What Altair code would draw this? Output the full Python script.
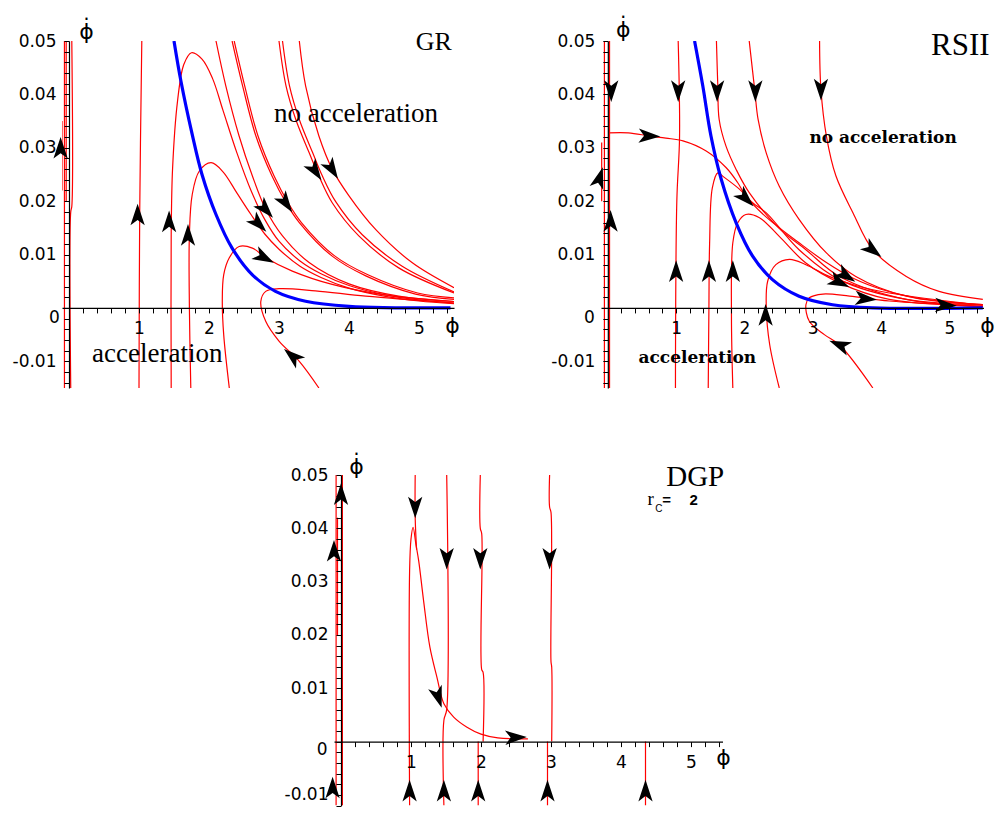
import altair as alt
import pandas as pd

# ====================== DATA ======================
# ---------- GR panel: trajectories (phi, phi_dot) ----------
GR_LEFT_A = [(-0.065, 0.05), (-0.065, -0.015)]
GR_LEFT_B = [(-0.04, 0.05), (-0.04, 0.02)]
GR_LEFT_C = [(0.04, 0.05), (0.04, 0.019), (0.025, 0.018), (0.025, -0.015)]
GR_LEFT_D = [(-0.10, 0.035), (-0.10, 0.022)]
GR_V1 = [(1.0, -0.015), (1.01, 0.0175), (1.04, 0.05)]
GR_P1 = [(1.46, -0.015), (1.46, 0.0137), (1.48, 0.0262), (1.55, 0.0387), (1.64, 0.0456),
         (1.75, 0.0478), (1.90, 0.0466), (2.05, 0.043), (2.2, 0.037), (2.4, 0.029),
         (2.6, 0.022), (2.8, 0.0165), (3.0, 0.0125), (3.3, 0.0088), (3.6, 0.0064),
         (4.0, 0.0042), (4.5, 0.0025), (5.0, 0.0015), (5.5, 0.0009)]
GR_P2 = [(1.74, -0.015), (1.72, 0.0), (1.72, 0.0137), (1.76, 0.0212), (1.86, 0.0256),
         (2.03, 0.0272), (2.2, 0.0255), (2.4, 0.0215), (2.6, 0.0175), (2.8, 0.0138),
         (3.0, 0.011), (3.3, 0.0078), (3.6, 0.0057), (4.0, 0.0037), (4.5, 0.0022),
         (5.0, 0.0013), (5.5, 0.0008)]
GR_P3 = [(2.29, -0.015), (2.21, -0.005), (2.19, 0.0012), (2.21, 0.0062), (2.29, 0.0094),
         (2.43, 0.0115), (2.62, 0.0112), (2.81, 0.0094), (3.19, 0.0069), (3.76, 0.0044),
         (4.48, 0.0025), (5.5, 0.0012)]
GR_P4 = [(3.57, -0.015), (3.29, -0.01), (3.0, -0.0062), (2.81, -0.0025), (2.74, 0.0012),
         (2.81, 0.0031), (3.0, 0.0036), (3.52, 0.0032), (4.24, 0.0022), (5.5, 0.0009)]
GR_T1 = [(2.10, 0.05), (2.24, 0.0416), (2.43, 0.0322), (2.62, 0.0247), (2.81, 0.0185),
         (3.05, 0.0135), (3.43, 0.0085), (4.0, 0.0045), (4.71, 0.0022), (5.5, 0.0012)]
GR_T2 = [(2.33, 0.05), (2.48, 0.0416), (2.67, 0.0322), (2.90, 0.0247), (3.1, 0.0197),
         (3.29, 0.016), (3.76, 0.0097), (4.24, 0.006), (4.95, 0.0026), (5.5, 0.0016)]
GR_T2B = [(2.36, 0.05), (2.51, 0.0416), (2.70, 0.0322), (2.93, 0.0247), (3.13, 0.0197),
          (3.32, 0.016), (3.79, 0.0098), (4.27, 0.0062), (4.98, 0.0028), (5.5, 0.0019)]
GR_T3 = [(3.0, 0.05), (3.1, 0.0416), (3.24, 0.0353), (3.43, 0.0291), (3.57, 0.0247),
         (3.76, 0.0197), (4.14, 0.0135), (4.71, 0.0075), (5.5, 0.0028)]
GR_T4 = [(3.05, 0.05), (3.15, 0.0416), (3.29, 0.0353), (3.48, 0.0291), (3.62, 0.0247),
         (3.81, 0.0199), (4.19, 0.0137), (4.76, 0.0078), (5.5, 0.003)]
GR_T5 = [(3.29, 0.05), (3.38, 0.0416), (3.57, 0.0322), (3.76, 0.026), (4.0, 0.021),
         (4.38, 0.0147), (4.9, 0.0085), (5.5, 0.0038)]
GR_BLUE = [(1.5, 0.05), (1.6, 0.0424), (1.76, 0.0325), (1.9, 0.025), (2.1, 0.0175),
           (2.33, 0.0112), (2.62, 0.0062), (2.95, 0.0031), (3.38, 0.00125), (4.0, 0.0003),
           (5.45, 0.0)]
# arrows: (phi, phi_dot, direction in degrees clockwise from "up")
GR_ARROWS = [(-0.12, 0.030, 0), (0.98, 0.0175, 0), (1.43, 0.0162, 0), (1.70, 0.0137, 0),
             (2.71, 0.0157, 135), (2.81, 0.0184, 138), (3.10, 0.0196, 145),
             (3.52, 0.0256, 146), (3.76, 0.0259, 148), (2.79, 0.0094, 118),
             (3.19, -0.0090, 310)]
GR_TITLE = [("GR", 5.21, 0.0498)]
GR_TEXT = [("no acceleration", 4.1, 0.0363), ("acceleration", 1.26, -0.0086)]
GR_ZERO = [("0", -0.21, -0.0018)]

# ---------- RSII panel ----------
RS_LEFT_A = [(-0.05, 0.05), (-0.05, -0.015)]
RS_LEFT_B = [(0.025, 0.05), (0.025, -0.015)]
RS_LEFT_C = [(-0.09, 0.031), (-0.09, 0.02)]
RS_V1 = [(1.03, 0.05), (1.05, 0.032), (1.01, 0.02), (0.99, -0.015)]
RS_H = [(0.02, 0.0328), (0.3, 0.0328), (0.61, 0.0322), (0.85, 0.0318), (1.1, 0.0313),
        (1.44, 0.0294), (1.73, 0.0263), (1.9, 0.0235), (2.02, 0.021), (2.32, 0.017),
        (2.8, 0.0122), (3.2, 0.0085), (3.6, 0.0055), (4.0, 0.0035), (4.5, 0.0019),
        (5.0, 0.0011), (5.49, 0.0006)]
RS_P1 = [(1.47, -0.015), (1.48, 0.0), (1.49, 0.012), (1.53, 0.0225), (1.61, 0.0253),
         (1.7, 0.0245), (1.93, 0.0222), (2.12, 0.0197), (2.32, 0.0178), (2.8, 0.0109),
         (3.39, 0.0053), (4.37, 0.0016), (5.49, 0.0006)]
RS_P2 = [(1.83, -0.015), (1.81, -0.0016), (1.83, 0.0122), (1.9, 0.0159), (2.02, 0.0175),
         (2.22, 0.0169), (2.51, 0.0134), (2.9, 0.0084), (3.39, 0.0047), (4.12, 0.0016),
         (5.49, 0.0003)]
RS_P3 = [(2.51, -0.015), (2.37, -0.0069), (2.32, 0.0), (2.34, 0.005), (2.46, 0.0081),
         (2.66, 0.0091), (2.9, 0.0081), (3.24, 0.0059), (3.63, 0.0042), (4.12, 0.0028),
         (5.49, 0.0005)]
RS_P4 = [(3.88, -0.015), (3.39, -0.0069), (3.17, -0.005), (2.95, -0.0025), (2.9, 0.0006),
         (2.95, 0.0019), (3.15, 0.0026), (3.54, 0.0022), (4.12, 0.0013), (5.49, 0.0003)]
RS_D1 = [(1.59, 0.05), (1.61, 0.0416), (1.63, 0.0353), (1.73, 0.0303), (1.88, 0.0259),
         (2.07, 0.0216), (2.5, 0.015), (2.9, 0.0109), (3.39, 0.0059), (4.37, 0.0016),
         (5.49, 0.0003)]
RS_D2 = [(2.07, 0.05), (2.15, 0.0409), (2.2, 0.0353), (2.32, 0.029), (2.51, 0.0228),
         (2.8, 0.0166), (3.2, 0.0103), (3.63, 0.0059), (4.37, 0.0022), (5.49, 0.0006)]
RS_D3 = [(3.1, 0.05), (3.12, 0.0409), (3.2, 0.0322), (3.34, 0.0247), (3.59, 0.0178),
         (3.88, 0.0109), (4.37, 0.0059), (4.85, 0.0031), (5.49, 0.0016)]
RS_BLUE = [(1.27, 0.05), (1.39, 0.0416), (1.51, 0.0322), (1.66, 0.0241), (1.88, 0.0159),
           (2.12, 0.0097), (2.41, 0.0053), (2.8, 0.0022), (3.29, 0.0006), (3.88, 0.0),
           (5.49, 0.0)]
RS_ARROWS = [(0.05, 0.0406, 180), (0.04, 0.0163, 0), (-0.12, 0.0244, 17),
             (1.03, 0.0406, 180), (1.60, 0.0406, 180), (2.16, 0.0406, 180),
             (3.12, 0.0409, 180), (0.61, 0.0322, 92), (2.02, 0.0205, 135),
             (3.88, 0.0108, 128), (3.49, 0.0060, 123), (3.39, 0.0048, 115),
             (3.78, 0.0017, 95), (4.95, 0.0005, 92), (1.0, 0.0069, 0),
             (1.48, 0.0069, 0), (1.83, 0.0069, 0), (2.31, -0.0013, 0),
             (3.39, -0.0069, 292)]
RS_TITLE = [("RSII", 5.16, 0.049)]
RS_TEXT = [("no acceleration", 4.03, 0.0318), ("acceleration", 1.31, -0.0093)]
RS_ZERO = [("0", -0.27, -0.0018)]

# ---------- DGP panel (r_c = 2) ----------
DG_LEFT_A = [(-0.07, 0.05), (-0.07, -0.012)]
DG_LEFT_B = [(0.02, 0.05), (0.02, -0.012)]
DG_LEFT_C = [(-0.05, 0.042), (-0.05, 0.02)]
DG_V1 = [(0.98, -0.012), (0.98, 0.032), (1.0, 0.038), (1.03, 0.0402), (1.07, 0.037),
         (1.11, 0.0339), (1.18, 0.0264), (1.27, 0.0177), (1.37, 0.0121), (1.47, 0.0071),
         (1.61, 0.0046), (1.8, 0.0027), (2.0, 0.0014), (2.24, 0.0007), (2.67, 0.0005)]
DG_V1B = [(1.06, 0.05), (1.06, 0.042), (1.08, 0.036)]
DG_V15 = [(1.51, 0.05), (1.51, 0.006), (1.47, 0.004), (1.47, -0.012)]
DG_V2_TOP = [(1.99, 0.05), (1.99, 0.04), (2.01, 0.039), (2.01, 0.0135), (2.03, 0.013),
             (2.03, 0.0)]
DG_V2_BOT = [(1.96, 0.0), (1.96, -0.012)]
DG_V3_TOP = [(2.98, 0.05), (2.98, 0.044), (3.0, 0.043), (3.0, 0.015), (3.01, 0.014),
             (3.01, 0.0)]
DG_V3_BOT = [(2.95, 0.0), (2.95, -0.012)]
DG_V4 = [(4.35, 0.0), (4.35, -0.012)]
DG_ARROWS = [(0.0, 0.0464, 0), (-0.1, 0.0358, 0), (-0.12, -0.0086, 0),
             (1.06, 0.0439, 180), (1.39, 0.0083, 162), (1.51, 0.0343, 180),
             (1.99, 0.0343, 180), (2.98, 0.0343, 180), (2.5, 0.0008, 88),
             (0.98, -0.0092, 0), (1.47, -0.0092, 0), (1.96, -0.0092, 0),
             (2.95, -0.0092, 0), (4.35, -0.0092, 0)]
DG_TITLE = [("DGP", 5.06, 0.0497)]
DG_R = [("r", 4.38, 0.0443)]
DG_SUB = [("C", 4.49, 0.0430)]
DG_EQ = [("=", 4.59, 0.0443), ("2", 4.98, 0.0443)]
DG_ZERO = [("0", -0.27, -0.0016)]

# axis ticks (minor every 0.2 / 0.002, labelled at integers / 0.01)
X_TICKS = [round(0.2 * i, 1) for i in range(1, 28)]
Y_TICKS = [round(0.002 * i, 3) for i in range(-7, 26)]

# ====================== BUILD ======================
ARROW = "M0,-1L0.66,1L0,0.5L-0.66,1Z"
XL = "abs(datum.value - round(datum.value)) < 0.01 ? format(datum.value, 'd') : ''"
YL = ("(abs(datum.value*100 - round(datum.value*100)) < 0.01 && abs(datum.value) > 0.001)"
      " ? ((datum.value < 0 ? '-' : '') + format(abs(datum.value), '.2f')) : ''")
TICK_FONT = "DejaVu Sans"


def curves_df(curves):
    rows = []
    for ci, pts in enumerate(curves):
        for k, (x, y) in enumerate(pts):
            rows.append({"c": ci, "k": k, "x": x, "y": y})
    return pd.DataFrame(rows)


def text_df(items):
    return pd.DataFrame([{"t": t, "x": x, "y": y} for t, x, y in items])


def panel(red, blue, arrows, texts, xdom, ydom, w, h, xt, yt):
    xoff = -h * (0 - ydom[0]) / (ydom[1] - ydom[0])
    yoff = -w * (0 - xdom[0]) / (xdom[1] - xdom[0])
    xaxis = alt.Axis(values=[v for v in X_TICKS if v <= xdom[1]], labelExpr=XL,
                     offset=xoff, title="\u03d5", titleX=xt[0], titleY=xt[1],
                     titleAngle=0, titleAlign="center", titleBaseline="middle",
                     titleFont="DejaVu Sans", titleFontSize=22, titleFontWeight="normal",
                     labelAlign="center", labelBaseline="top", labelPadding=8,
                     labelOverlap=False, labelFlush=False, grid=False, tickSize=5,
                     zindex=1)
    yaxis = alt.Axis(values=[v for v in Y_TICKS if v >= ydom[0]], labelExpr=YL,
                     offset=yoff, title="\u03d5\u0307", titleX=yt[0], titleY=yt[1],
                     titleAngle=0, titleAlign="center", titleBaseline="middle",
                     titleFont="DejaVu Sans", titleFontSize=22, titleFontWeight="normal",
                     labelAlign="right", labelBaseline="middle", labelPadding=8,
                     labelOverlap=False, labelFlush=False, grid=False, tickSize=5,
                     zindex=1)
    X = alt.X("x:Q", scale=alt.Scale(domain=xdom, nice=False, zero=False), axis=xaxis)
    Y = alt.Y("y:Q", scale=alt.Scale(domain=ydom, nice=False, zero=False), axis=yaxis)

    layers = [
        alt.Chart(curves_df(red))
        .mark_line(color="#ff0000", strokeWidth=1.2, clip=True, interpolate="catmull-rom")
        .encode(x=X, y=Y, detail="c:N", order="k:Q")
    ]
    if blue:
        layers.append(
            alt.Chart(curves_df([blue]))
            .mark_line(color="#0000ff", strokeWidth=3.2, clip=True, interpolate="catmull-rom")
            .encode(x=X, y=Y, detail="c:N", order="k:Q"))
    layers.append(
        alt.Chart(pd.DataFrame(arrows, columns=["x", "y", "a"]))
        .mark_point(shape=ARROW, filled=True, size=470, color="black", opacity=1,
                    strokeWidth=0)
        .encode(x=X, y=Y, angle=alt.Angle("a:Q", scale=None)))
    for items, style in texts:
        layers.append(alt.Chart(text_df(items)).mark_text(color="black", **style)
                      .encode(x=X, y=Y, text="t:N"))
    return alt.layer(*layers).properties(width=w, height=h)


serif = dict(font="Liberation Serif", fontWeight="normal", align="center", baseline="middle")
zero_style = dict(font=TICK_FONT, fontSize=17, align="center", baseline="middle")

gr = panel(
    [GR_LEFT_A, GR_LEFT_B, GR_LEFT_C, GR_LEFT_D, GR_V1, GR_P1, GR_P2, GR_P3, GR_P4,
     GR_T1, GR_T2, GR_T2B, GR_T3, GR_T4, GR_T5],
    GR_BLUE, GR_ARROWS,
    [(GR_TITLE, dict(serif, fontSize=26)),
     (GR_TEXT, dict(serif, fontSize=27)),
     (GR_ZERO, zero_style)],
    [-0.1, 5.5], [-0.015, 0.05], 392, 347, (390, 18), (17, -10))

rs = panel(
    [RS_LEFT_A, RS_LEFT_B, RS_LEFT_C, RS_V1, RS_H, RS_P1, RS_P2, RS_P3, RS_P4,
     RS_D1, RS_D2, RS_D3],
    RS_BLUE, RS_ARROWS,
    [(RS_TITLE, dict(serif, fontSize=31)),
     (RS_TEXT, dict(font="DejaVu Serif", fontWeight="bold", fontSize=17,
                    align="center", baseline="middle")),
     (RS_ZERO, zero_style)],
    [-0.1, 5.5], [-0.015, 0.05], 382.5, 347, (386, 18), (15, -12))

dg = panel(
    [DG_LEFT_A, DG_LEFT_B, DG_LEFT_C, DG_V1, DG_V1B, DG_V15, DG_V2_TOP, DG_V2_BOT,
     DG_V3_TOP, DG_V3_BOT, DG_V4],
    None, DG_ARROWS,
    [(DG_TITLE, dict(serif, fontSize=29)),
     (DG_R, dict(font="Liberation Serif", fontSize=19, align="left", baseline="alphabetic")),
     (DG_SUB, dict(font="Liberation Sans", fontSize=10, align="left", baseline="alphabetic")),
     (DG_EQ, dict(font="Liberation Sans", fontWeight="bold", fontSize=15, align="left",
                  baseline="alphabetic")),
     (DG_ZERO, zero_style)],
    [-0.1, 5.45], [-0.012, 0.05], 388.5, 330.6, (389, 16), (15, -9))

# invisible spacer that shifts the DGP panel to the centre of the page
spacer = (alt.Chart(pd.DataFrame({"v": [0]}))
          .mark_point(size=1, opacity=0)
          .encode(x=alt.value(100), y=alt.value(5))
          .properties(width=250, height=10))

top = alt.hconcat(gr, rs, spacing=147, bounds="flush")
bottom = alt.hconcat(spacer, dg, spacing=22, bounds="flush")
chart = (
    alt.vconcat(top, bottom, spacing=64)
    .properties(padding={"left": 4, "top": 10, "right": 0, "bottom": 0})
    .configure_view(stroke=None)
    .configure_axis(domainColor="black", tickColor="black", labelColor="black",
                    titleColor="black", labelFont=TICK_FONT, labelFontSize=17,
                    domainWidth=1.2, tickWidth=1)
)

chart.save("out.html", embed_options={"renderer": "svg", "actions": False})
